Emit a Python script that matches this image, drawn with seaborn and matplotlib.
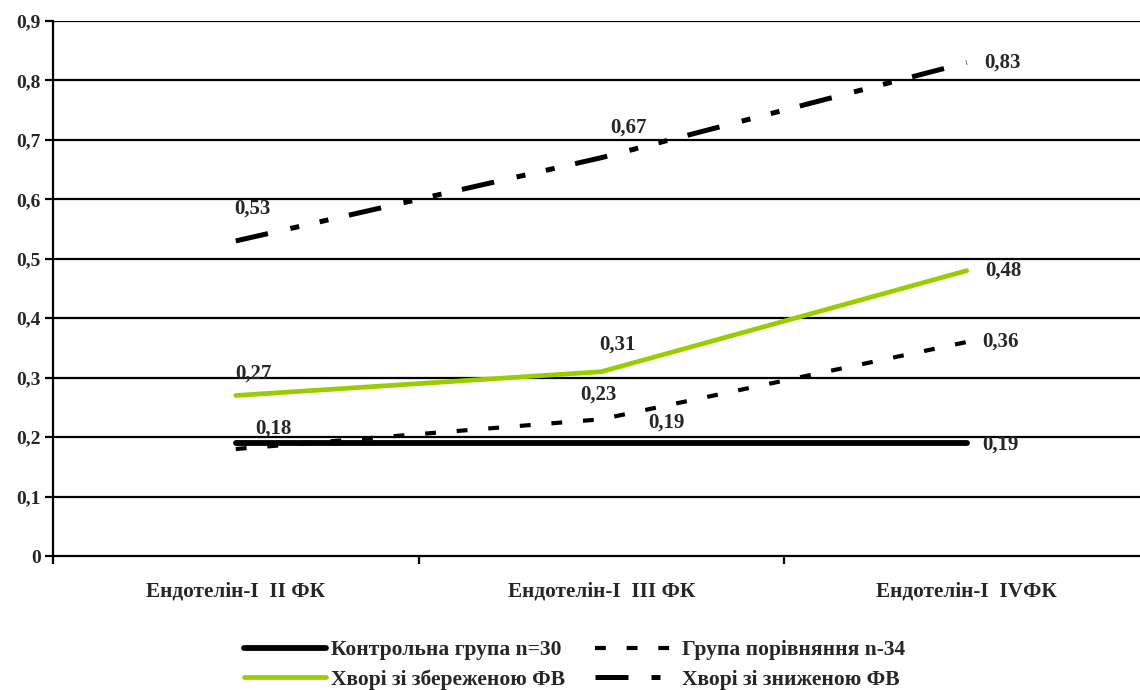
import matplotlib
matplotlib.use("Agg")
import matplotlib.pyplot as plt
import seaborn as sns

# Data
categories = ["Ендотелін-I  II ФК", "Ендотелін-I  III ФК", "Ендотелін-I  IVФК"]
control = [0.19, 0.19, 0.19]
comparison = [0.18, 0.23, 0.36]
preserved = [0.27, 0.31, 0.48]
reduced = [0.53, 0.67, 0.83]
series_names = ["Контрольна група n=30", "Група порівняння n-34",
                "Хворі зі збереженою ФВ", "Хворі зі зниженою ФВ"]
y_ticks = [0, 0.1, 0.2, 0.3, 0.4, 0.5, 0.6, 0.7, 0.8, 0.9]

sns.set_theme(style="white")
plt.rcParams["font.family"] = ["Liberation Serif", "DejaVu Serif"]
plt.rcParams["font.weight"] = "bold"

fig = plt.figure(figsize=(11.4, 6.9), dpi=100)
ax = fig.add_axes([0.0465, 0.1942, 0.9535, 0.7754])

x = list(range(len(categories)))

# horizontal grid lines at every tick
for yv in y_ticks[1:]:
    ax.axhline(yv, color="black", lw=1.6, zorder=1)

sns.lineplot(x=x, y=control, color="black", lw=4.2, solid_capstyle="round",
             label=series_names[0], ax=ax, zorder=3)
sns.lineplot(x=x, y=preserved, color="#9ACD00", lw=3.4,
             label=series_names[2], ax=ax, zorder=3)
sns.lineplot(x=x, y=comparison, color="black", lw=3.0,
             linestyle=(0, (2.6, 5.0)), label=series_names[1], ax=ax, zorder=4)
sns.lineplot(x=x, y=reduced, color="black", lw=3.6,
             linestyle=(0, (6.6, 4.6, 1.8, 4.2, 1.8, 4.2)),
             label=series_names[3], ax=ax, zorder=4)

# value labels: (series, index, dx px, dy px)
label_specs = [
    (reduced, 0, 17, 32), (reduced, 1, 27, 30), (reduced, 2, 36, 0),
    (preserved, 0, 18, 22), (preserved, 1, 16, 27), (preserved, 2, 37, 0),
    (comparison, 0, 38, 20), (comparison, 1, -3, 25), (comparison, 2, 34, 0),
    (control, 1, 65, 20), (control, 2, 34, -2),
]
for vals, i, dx, dy in label_specs:
    ax.annotate(f"{vals[i]:.2f}".replace(".", ","), xy=(x[i], vals[i]),
                xytext=(dx * 0.72, dy * 0.72), textcoords="offset points",
                ha="center", va="center", fontsize=15, fontweight="bold",
                zorder=5)

ax.set_ylim(0, 0.9)
ax.set_xlim(-0.5, 2.474)
ax.set_yticks(y_ticks)
ax.set_yticklabels([("0" if v == 0 else f"{v:.1f}".replace(".", ",")) for v in y_ticks],
                   fontsize=14, fontweight="bold")
ax.set_xticks(x)
ax.set_xticklabels(categories, fontsize=15.3, fontweight="bold")
ax.set_xticks([-0.5, 0.5, 1.5], minor=True)
ax.tick_params(axis="x", which="major", length=0, pad=18)
ax.tick_params(axis="x", which="minor", length=6, width=1.6, direction="out",
               color="black", bottom=True)
ax.tick_params(axis="y", length=6, width=1.6, direction="out", color="black",
               left=True, pad=3)
ax.set_xlabel("")
ax.set_ylabel("")

for s in ["top", "right"]:
    ax.spines[s].set_visible(False)
for s in ["left", "bottom"]:
    ax.spines[s].set_color("black")
    ax.spines[s].set_linewidth(1.6)

handles, labels = ax.get_legend_handles_labels()
ax.get_legend().remove()
hmap = dict(zip(labels, handles))
leg_order = [series_names[0], series_names[2], series_names[1], series_names[3]]
fig.legend([hmap[n] for n in leg_order], leg_order, loc="center",
           bbox_to_anchor=(0.504, 0.036), ncol=2, frameon=False,
           prop={"size": 15.5, "weight": "bold"}, handlelength=3.8,
           handletextpad=0.23, columnspacing=1.4, labelspacing=0.42,
           borderpad=0)

fig.savefig("out.png", dpi=100, facecolor="white")
